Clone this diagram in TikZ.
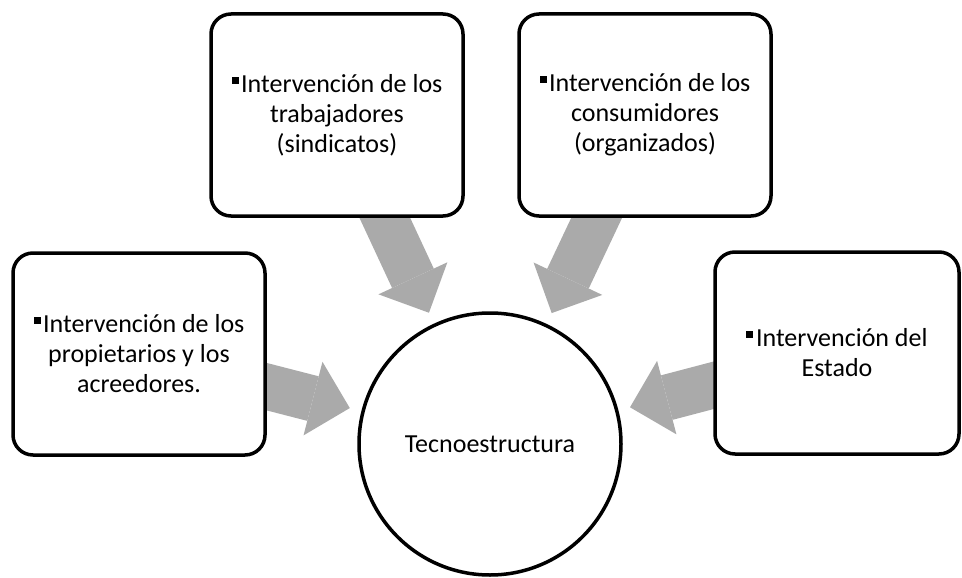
\documentclass[tikz,border=0pt]{standalone}
\usepackage{fontspec}
\setmainfont{Carlito}
\usetikzlibrary{arrows.meta,backgrounds}
\definecolor{arrowgray}{RGB}{170,170,170}
\newcommand{\sqbul}{\rule[0.33em]{0.27em}{0.27em}\hspace{0.1em}}

\begin{document}
\begin{tikzpicture}[
  x=1pt,y=-1pt,
  side_box/.style={
    draw,line width=3.5pt,rounded corners=20pt,fill=white,
    align=center,inner sep=0pt,
    minimum width=252pt,minimum height=202pt,
    font=\fontsize{26}{30}\selectfont
  },
  hub/.style={
    draw,circle,line width=3.5pt,fill=white,
    minimum size=262pt,inner sep=0pt,
    font=\fontsize{26}{30}\selectfont
  },
  push_arrow/.style={
    draw=arrowgray,line width=46pt,
    -{Triangle[length=38pt,width=76pt,line width=0pt]},
    shorten >=12pt,shorten <=-20pt
  }]
  %
  \useasboundingbox (0,0) rectangle (962,578);
  \node[hub] (tecno) at (490,444) {Tecnoestructura};
  \node[side_box] (owners) at (139,354)
    {\sqbul Intervención de los\\propietarios y los\\acreedores.};
  \node[side_box] (workers) at (337,115)
    {\sqbul Intervención de los\\trabajadores\\(sindicatos)};
  \node[side_box] (consumers) at (645,115)
    {\sqbul Intervención de los\\consumidores\\(organizados)};
  \node[side_box,minimum width=244pt] (state) at (837,353)
    {\sqbul Intervención del\\Estado};
  %
  \begin{scope}[on background layer]
    \foreach \src in {owners,workers,consumers,state} {
      \draw[push_arrow] (\src) -- (tecno);
    }
  \end{scope}
\end{tikzpicture}
\end{document}
